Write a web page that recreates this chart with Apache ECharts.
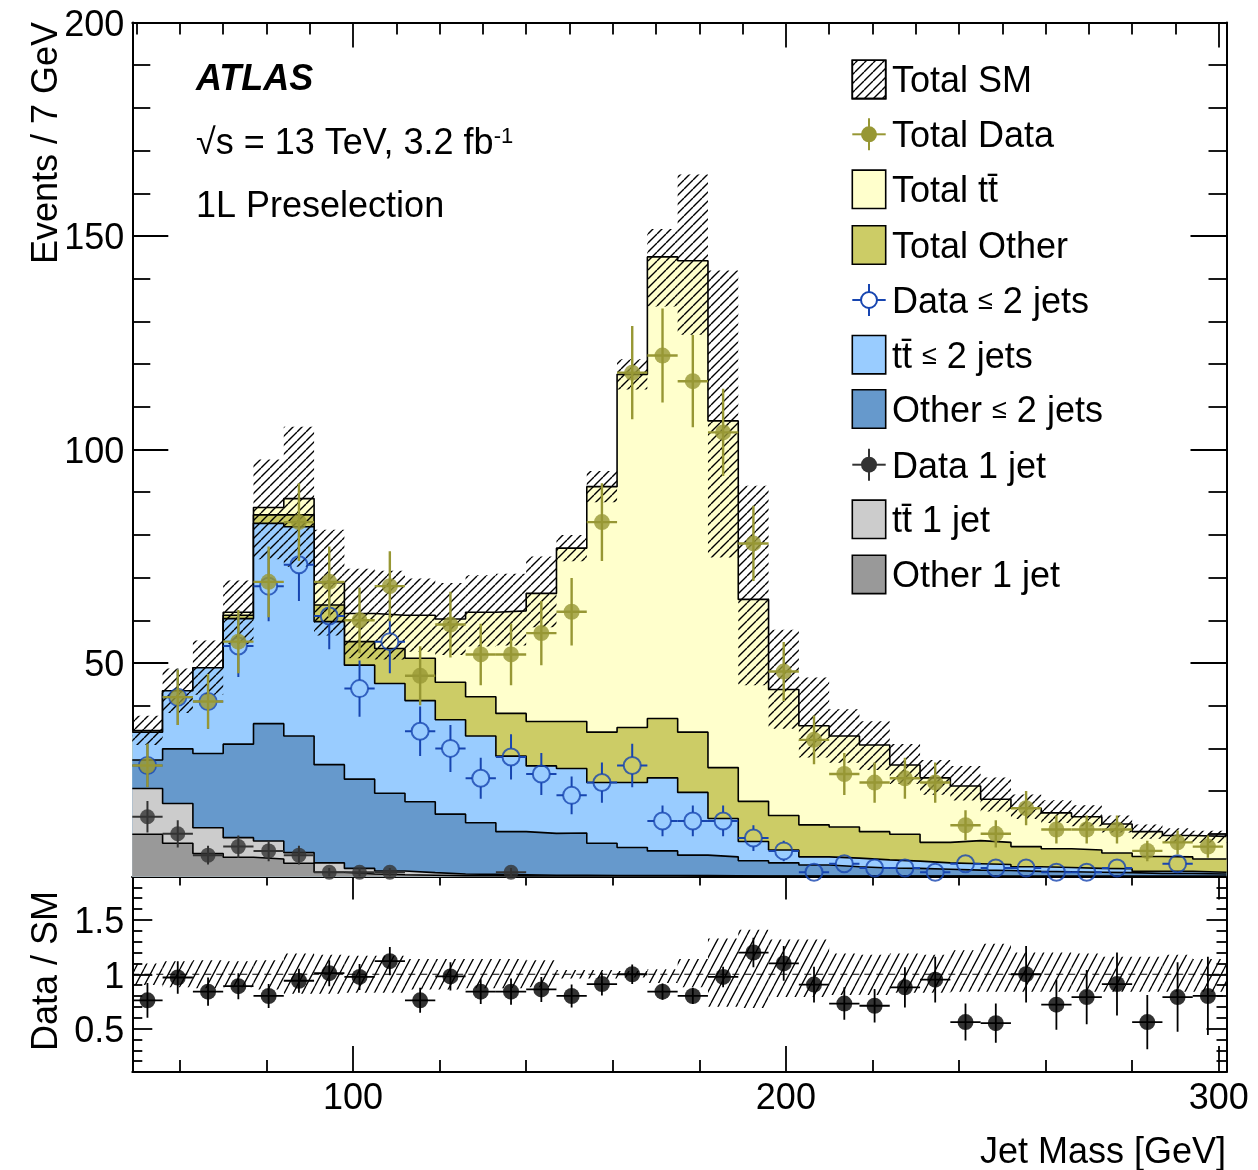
<!DOCTYPE html>
<html><head><meta charset="utf-8">
<script src="https://cdn.jsdelivr.net/npm/echarts@6/dist/echarts.min.js"></script>
<style>html,body{margin:0;padding:0;background:#fff}#c{width:1258px;height:1170px}</style>
</head><body><div id="c"></div>
<script>
// ---------------- data ----------------
const binEdges = [49,56,63,70,77,84,91,98,105,112,119,126,133,140,147,154,161,168,175,182,189,196,203,210,217,224,231,238,245,252,259,266,273,280,287,294,301];
const xMin = 49, xMax = 301.8;
const xMajorTicks = [100, 200, 300];
const xMinorUpper = [50,60,70,80,90,110,120,130,140,150,160,170,180,190,210,220,230,240,250,260,270,280,290];
const xMinorLower = [60,80,120,140,160,180,220,240,260,280];
const yTicksUpper = [50, 100, 150, 200];
const yTicksRatio = [0.5, 1, 1.5];
const yMinorRatio = [0.2,0.3,0.4,0.6,0.7,0.8,0.9,1.1,1.2,1.3,1.4,1.6,1.7,1.8];

// stack heights (top edge of each filled layer)
const sumTotal  = [34.2,43.5,48.9,61.9,86.4,88.5,68.8,61.6,61.2,61.2,60.3,61.9,62.2,66.3,76.9,91.3,117.6,145.1,144.2,106.7,64.9,43.8,35.3,32.9,30.8,26.1,23.1,21.2,18.1,16.0,14.9,14.0,12.3,10.5,9.6,9.4];
const otherTotal= [33.0,43.0,48.5,61.2,84.7,84.7,63.6,55.0,53.4,51.1,45.5,42.1,38.2,36.3,36.3,33.8,34.9,37.0,33.8,25.5,17.6,14.3,12.1,11.6,10.5,9.9,8.0,8.4,8.0,7.0,6.5,6.2,5.5,4.7,4.6,4.1];
const sumLe2    = [33.8,43.5,48.9,60.4,82.7,81.9,59.7,49.5,45.2,41.2,36.7,32.9,28.2,25.9,25.3,22.0,22.0,23.1,19.7,13.6,8.2,6.2,4.6,4.3,3.9,3.6,3.2,3.0,2.8,2.3,2.1,1.9,1.8,1.2,1.2,1.0];
const otherLe2  = [27.3,29.9,28.8,31.0,35.8,32.9,26.2,22.8,19.5,17.5,14.6,12.6,10.5,10.1,10.2,7.8,6.8,6.0,5.0,4.6,3.7,3.2,2.7,2.3,2.0,1.9,1.7,1.5,1.4,1.2,1.1,1.0,0.9,0.7,0.7,0.6];
const sum1j     = [20.6,17.1,11.4,9.1,8.3,5.6,3.2,1.9,1.3,0.9,0.6,0.5,0.4,0.3,0.3,0.25,0.2,0.2,0.2,0.15,0.1,0.1,0.1,0.1,0.1,0.1,0.1,0.1,0.05,0.05,0.05,0.05,0.05,0.05,0.05,0.05];
const other1j   = [9.9,7.8,5.4,4.5,4.1,3.1,1.0,0.6,0.4,0.3,0.2,0.2,0.15,0.1,0.1,0.1,0.1,0.1,0.05,0.05,0.05,0.05,0.05,0.05,0.05,0.05,0.05,0.05,0.02,0.02,0.02,0.02,0.02,0.02,0.02,0.02];

// relative SM uncertainty (hatched band)
const bandUp   = [0.10,0.12,0.13,0.12,0.13,0.19,0.18,0.17,0.17,0.14,0.14,0.14,0.14,0.13,0.04,0.04,0.03,0.045,0.14,0.33,0.41,0.32,0.32,0.19,0.18,0.19,0.18,0.22,0.28,0.20,0.20,0.19,0.16,0.16,0.18,0.14];
const bandDown = [0.10,0.12,0.13,0.12,0.14,0.18,0.18,0.17,0.17,0.14,0.14,0.13,0.13,0.12,0.04,0.04,0.03,0.08,0.12,0.30,0.31,0.21,0.21,0.19,0.19,0.17,0.17,0.16,0.16,0.16,0.16,0.16,0.16,0.16,0.16,0.16];

// data
const dataTotal    = [26,42,41,55,69,83,69,60,68,47,59,52,52,57,62,83,118,122,116,104,78,48,32,24,22,23,22,12,10,16,11,11,11,6,8,7];
const dataTotalErr = [5.1,6.5,6.4,7.4,8.3,9.1,8.3,7.7,8.2,6.9,7.7,7.2,7.2,7.5,7.9,9.1,10.9,11.0,10.8,10.2,8.8,6.9,5.7,4.9,4.7,4.8,4.7,3.5,3.2,4.0,3.3,3.3,3.3,2.4,2.8,2.6];
const dataLe2      = [26,42,41,54,68,73,61,44,55,34,30,23,28,24,19,22,26,13,13,13,9,6,1,3,2,2,1,3,2,2,1,1,2,null,3,null];
const dataLe2Err   = [5.1,6.5,6.4,7.3,8.2,8.5,7.8,6.6,7.4,5.8,5.5,4.8,5.3,4.9,4.4,4.7,5.1,3.6,3.6,3.6,3.0,2.4,1.0,1.7,1.4,1.4,1.0,1.7,1.4,1.4,1.0,1.0,1.4,null,1.7,null];
const data1j       = [14,10,5,7,6,5,1,1,1,null,null,null,1,null,null,null,null,null,null,null,null,null,null,null,null,null,null,null,null,null,null,null,null,null,null,null];
const data1jErr    = [3.7,3.2,2.2,2.6,2.4,2.2,1.0,1.0,1.0,null,null,null,1.0,null,null,null,null,null,null,null,null,null,null,null,null,null,null,null,null,null,null,null,null,null,null,null];

// ratio panel
const ratioVal = [0.76,0.97,0.84,0.89,0.80,0.94,1.01,0.975,1.12,0.76,0.98,0.84,0.84,0.86,0.80,0.91,1.0,0.84,0.80,0.975,1.20,1.10,0.905,0.73,0.71,0.88,0.95,0.56,0.55,1.0,0.72,0.79,0.91,0.56,0.79,0.80];
const ratioErr = [0.16,0.15,0.13,0.12,0.11,0.11,0.12,0.12,0.13,0.115,0.13,0.115,0.12,0.115,0.105,0.105,0.09,0.075,0.075,0.095,0.135,0.16,0.165,0.15,0.155,0.185,0.21,0.17,0.18,0.26,0.23,0.25,0.29,0.25,0.32,0.36];

// ---------------- helpers ----------------
const nBins = binEdges.length - 1;
const centers = binEdges.slice(0, -1).map((e, i) => (e + binEdges[i + 1]) / 2);
const FONT = '"Liberation Sans", Arial, Helvetica, sans-serif';
const C = {
  ttTot: '#ffffcc', othTot: '#cccc66', ttLe2: '#99ccff', othLe2: '#6699cc',
  tt1j: '#cccccc', oth1j: '#999999', olive: '#979734', blue: '#1745b0', dark: '#333333'
};

function makeHatch(w, h, lw) {
  const c = document.createElement('canvas');
  c.width = w; c.height = h;
  const ctx = c.getContext('2d');
  ctx.strokeStyle = '#000'; ctx.lineWidth = lw;
  ctx.beginPath();
  [-w, 0, w].forEach(dx => { ctx.moveTo(dx, h); ctx.lineTo(dx + w, 0); });
  ctx.stroke();
  return c;
}
const hatchUpper = {image: makeHatch(9, 9, 1.4), repeat: 'repeat'};
const hatchLower = {image: makeHatch(9, 17, 1.3), repeat: 'repeat'};

function stepData(arr) {
  const d = arr.map((v, i) => [binEdges[i], v]);
  d.push([xMax, arr[arr.length - 1]]);
  return d;
}
let zc = 1;
function histSeries(arr, color) {
  return {type: 'line', xAxisIndex: 0, yAxisIndex: 0, data: stepData(arr), step: 'end',
    showSymbol: false, symbol: 'none', silent: true, clip: true, z: zc++,
    lineStyle: {color: '#000', width: 1.6}, areaStyle: {color: color, opacity: 1}};
}
function bandSeries(xi, yi, lo, hi, pattern, z) {
  return {type: 'custom', xAxisIndex: xi, yAxisIndex: yi, z: z, silent: true, clip: true,
    data: lo.map((l, i) => [centers[i], l, hi[i], i]),
    encode: {x: 0, y: [1, 2]},
    renderItem(params, api) {
      const i = api.value(3);
      const x1 = i === nBins - 1 ? xMax : binEdges[i + 1];
      const a = api.coord([binEdges[i], api.value(2)]);
      const b = api.coord([x1, api.value(1)]);
      return {type: 'rect', shape: {x: a[0], y: a[1], width: b[0] - a[0], height: b[1] - a[1]},
        style: {fill: pattern}};
    }};
}
function errSeries(xi, yi, vals, errs, color, lw, gap, z) {
  const data = [];
  vals.forEach((v, i) => { if (v != null) data.push([centers[i], v, errs[i], i]); });
  return {type: 'custom', xAxisIndex: xi, yAxisIndex: yi, z: z, silent: true, clip: true,
    data: data, encode: {x: 0, y: 1},
    renderItem(params, api) {
      const i = api.value(3), v = api.value(1), e = api.value(2), xc = api.value(0);
      const c = api.coord([xc, v]), t = api.coord([xc, v + e]), b = api.coord([xc, v - e]);
      const l = api.coord([binEdges[i], v]), r = api.coord([binEdges[i + 1], v]);
      const st = {stroke: color, lineWidth: lw};
      const ch = [];
      const seg = (x1, y1, x2, y2) => ch.push({type: 'line', shape: {x1, y1, x2, y2}, style: st});
      if (t[1] < c[1] - gap) seg(c[0], t[1], c[0], c[1] - gap);
      if (b[1] > c[1] + gap) seg(c[0], c[1] + gap, c[0], b[1]);
      seg(l[0], c[1], c[0] - gap, c[1]);
      seg(c[0] + gap, c[1], r[0], c[1]);
      return {type: 'group', children: ch};
    }};
}
function markerSeries(xi, yi, vals, size, itemStyle, z) {
  const data = [];
  vals.forEach((v, i) => { if (v != null) data.push([centers[i], v]); });
  return {type: 'scatter', xAxisIndex: xi, yAxisIndex: yi, data: data, symbol: 'circle',
    symbolSize: size, itemStyle: itemStyle, z: z, silent: true, clip: true};
}

const tickStyle = {color: '#000', width: 1.8};
const labRich = {a: {fontSize: 36, fontFamily: FONT, color: '#000', padding: [7, 0, 0, 0]}};
function xAx(grid, pos, ticks, len, line, labels) {
  return {gridIndex: grid, type: 'value', min: xMin, max: xMax, position: pos,
    axisLine: {show: line, onZero: false, lineStyle: {color: '#000', width: 2}},
    axisTick: {show: true, inside: true, length: len, customValues: ticks, lineStyle: tickStyle},
    axisLabel: labels ? {show: true, customValues: labels, fontSize: 36, fontFamily: FONT, color: '#000', margin: 9} : {show: false},
    splitLine: {show: false}};
}
function yAxR(pos, ticks, len, line, labels) {
  return {gridIndex: 1, type: 'value', min: 0.1, max: 1.9, position: pos,
    axisLine: {show: line, onZero: false, lineStyle: {color: '#000', width: 2}},
    axisTick: {show: true, inside: true, length: len, customValues: ticks, lineStyle: tickStyle},
    axisLabel: labels ? {show: true, customValues: labels, margin: 8, rich: labRich,
      formatter: v => '{a|' + String(v) + '}'} : {show: false},
    splitLine: {show: false}};
}
function yAxU(pos, labels) {
  return {gridIndex: 0, type: 'value', min: 0, max: 200, interval: 50, position: pos,
    axisLine: {show: true, onZero: false, lineStyle: {color: '#000', width: 2}},
    axisTick: {show: true, inside: true, length: 36, lineStyle: tickStyle},
    minorTick: {show: true, splitNumber: 5, length: 18, lineStyle: tickStyle},
    axisLabel: labels ? {show: true, customValues: yTicksUpper, margin: 8, rich: labRich,
      formatter: v => '{a|' + String(v) + '}'} : {show: false},
    splitLine: {show: false}, minorSplitLine: {show: false}};
}

// ---------------- legend & texts (graphic) ----------------
const legY = [79.4, 134.3, 189.3, 245, 300, 354.7, 409, 464.7, 519.3, 574.4];
const boxX = 852.3, boxW = 33.4, boxH = 38.4, txtX = 892, tdy = 3;
const g = [];
function box(cy, fill, hatch) {
  g.push({type: 'rect', shape: {x: boxX, y: cy - boxH / 2, width: boxW, height: boxH},
    style: {fill: fill, stroke: '#000', lineWidth: 1.6}, z: 100});
  if (hatch) g.push({type: 'rect', shape: {x: boxX, y: cy - boxH / 2, width: boxW, height: boxH},
    style: {fill: hatch, stroke: '#000', lineWidth: 1.6}, z: 101});
}
function mark(cy, color, open) {
  const xc = boxX + boxW / 2, r = 8;
  const st = {stroke: color, lineWidth: 2};
  g.push({type: 'line', shape: {x1: boxX, y1: cy, x2: xc - (open ? r : 0), y2: cy}, style: st, z: 100});
  g.push({type: 'line', shape: {x1: xc + (open ? r : 0), y1: cy, x2: boxX + boxW, y2: cy}, style: st, z: 100});
  g.push({type: 'line', shape: {x1: xc, y1: cy - 16, x2: xc, y2: cy - (open ? r : 0)}, style: st, z: 100});
  g.push({type: 'line', shape: {x1: xc, y1: cy + (open ? r : 0), x2: xc, y2: cy + 16}, style: st, z: 100});
  g.push({type: 'circle', shape: {cx: xc, cy: cy, r: r},
    style: open ? {fill: 'none', stroke: color, lineWidth: 2} : {fill: color}, z: 101});
}
function txt(x, y, text, extra) {
  g.push(Object.assign({type: 'text', x: x, y: y + tdy, z: 100,
    style: Object.assign({text: text, font: '36px ' + FONT, fill: '#000', align: 'left', verticalAlign: 'middle'}, extra || {})}));
}
const richBase = {le: {fontSize: 27, fontFamily: FONT, verticalAlign: 'middle', padding: [0, 0, 2, 0]}};
const TTB = 'tt\u0304';
box(legY[0], '#fff', hatchUpper); txt(txtX, legY[0], 'Total SM');
mark(legY[1], C.olive, false);     txt(txtX, legY[1], 'Total Data');
box(legY[2], C.ttTot);             txt(txtX, legY[2], 'Total ' + TTB);
box(legY[3], C.othTot);            txt(txtX, legY[3], 'Total Other');
mark(legY[4], C.blue, true);       txt(txtX, legY[4], 'Data {le|\u2264} 2 jets', {rich: richBase});
box(legY[5], C.ttLe2);             txt(txtX, legY[5], TTB + ' {le|\u2264} 2 jets', {rich: richBase});
box(legY[6], C.othLe2);            txt(txtX, legY[6], 'Other {le|\u2264} 2 jets', {rich: richBase});
mark(legY[7], C.dark, false);      txt(txtX, legY[7], 'Data 1 jet');
box(legY[8], C.tt1j);              txt(txtX, legY[8], TTB + ' 1 jet');
box(legY[9], C.oth1j);             txt(txtX, legY[9], 'Other 1 jet');

txt(196, 77.5, 'ATLAS', {font: 'italic bold 36px ' + FONT});
txt(196, 140.6, '\u221As = 13 TeV, 3.2 fb{sup|-1}', {rich: {sup: {fontSize: 22, fontFamily: FONT, verticalAlign: 'top'}}});
txt(196, 204, '1L Preselection');
g.push({type: 'text', x: 47, y: 22, rotation: Math.PI / 2, z: 100,
  style: {text: 'Events / 7 GeV', font: '36px ' + FONT, fill: '#000', align: 'right', verticalAlign: 'middle'}});
g.push({type: 'text', x: 47, y: 971, rotation: Math.PI / 2, z: 100,
  style: {text: 'Data / SM', font: '36px ' + FONT, fill: '#000', align: 'center', verticalAlign: 'middle'}});
g.push({type: 'text', x: 1226, y: 1153, z: 100,
  style: {text: 'Jet Mass [GeV]', font: '36px ' + FONT, fill: '#000', align: 'right', verticalAlign: 'middle'}});

// ---------------- series ----------------
const series = [
  histSeries(sumTotal, C.ttTot),
  histSeries(otherTotal, C.othTot),
  histSeries(sumLe2, C.ttLe2),
  histSeries(otherLe2, C.othLe2),
  histSeries(sum1j, C.tt1j),
  histSeries(other1j, C.oth1j),
  bandSeries(0, 0, sumTotal.map((t, i) => t * (1 - bandDown[i])), sumTotal.map((t, i) => t * (1 + bandUp[i])), hatchUpper, 20),
  errSeries(0, 0, dataLe2, dataLe2Err, C.blue, 2, 8.5, 21),
  markerSeries(0, 0, dataLe2, 17, {color: 'rgba(0,0,0,0)', borderColor: C.blue, borderWidth: 2}, 22),
  errSeries(0, 0, dataTotal, dataTotalErr, C.olive, 2.4, 0, 23),
  markerSeries(0, 0, dataTotal, 16, {color: C.olive}, 24),
  errSeries(0, 0, data1j, data1jErr, C.dark, 2, 0, 25),
  markerSeries(0, 0, data1j, 15, {color: C.dark}, 26),
  // ratio panel
  bandSeries(4, 2, bandDown.map(d => 1 - d), bandUp.map(u => 1 + u), hatchLower, 20),
  {type: 'line', xAxisIndex: 4, yAxisIndex: 2, data: [[xMin, 1], [xMax, 1]], showSymbol: false, symbol: 'none',
    silent: true, z: 21, lineStyle: {color: '#000', width: 1.2, type: [7, 5]}},
  errSeries(4, 2, ratioVal, ratioErr, '#000', 1.8, 0, 22),
  markerSeries(4, 2, ratioVal, 16, {color: '#000'}, 23)
];

const chart = echarts.init(document.getElementById('c'), null, {renderer: 'canvas'});
chart.setOption({
  animation: false,
  backgroundColor: '#fff',
  grid: [
    {left: 132.3, right: 31.5, top: 22.5, height: 854, containLabel: false},
    {left: 132.3, right: 31.5, top: 876.5, height: 195.5, containLabel: false}
  ],
  xAxis: [
    xAx(0, 'bottom', xMajorTicks, 27, true),
    xAx(0, 'bottom', xMinorUpper, 13, false),
    xAx(0, 'top', xMajorTicks, 25, true),
    xAx(0, 'top', xMinorUpper, 12, false),
    xAx(1, 'bottom', xMajorTicks, 26, true, xMajorTicks),
    xAx(1, 'bottom', xMinorLower, 12, false),
    xAx(1, 'top', xMajorTicks, 23, true),
    xAx(1, 'top', xMinorLower, 9, false)
  ],
  yAxis: [
    yAxU('left', true),
    yAxU('right', false),
    yAxR('left', yTicksRatio, 20, true, yTicksRatio),
    yAxR('left', yMinorRatio, 10, false),
    yAxR('right', yTicksRatio, 20, true),
    yAxR('right', yMinorRatio, 10, false)
  ],
  graphic: g,
  series: series
});
</script>
</body></html>
